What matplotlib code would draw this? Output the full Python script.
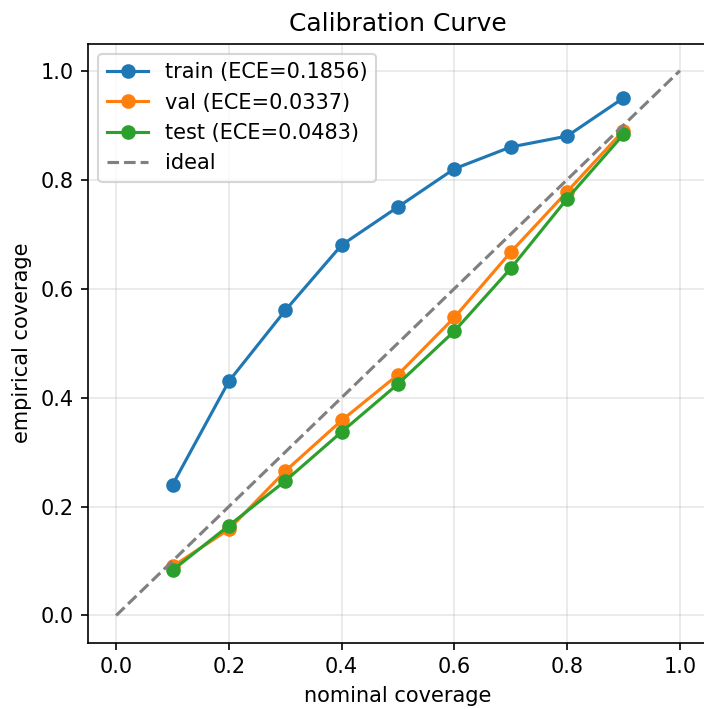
import matplotlib
matplotlib.use("Agg")
import matplotlib.pyplot as plt
import numpy as np

nominal = [0.1, 0.2, 0.3, 0.4, 0.5, 0.6, 0.7, 0.8, 0.9]
train_cov = [0.24, 0.43, 0.56, 0.68, 0.75, 0.82, 0.86, 0.88, 0.95]
val_cov = [0.09, 0.158, 0.265, 0.358, 0.442, 0.547, 0.667, 0.778, 0.89]
test_cov = [0.083, 0.165, 0.247, 0.337, 0.425, 0.522, 0.637, 0.765, 0.883]
ece = {"train": 0.1856, "val": 0.0337, "test": 0.0483}

W, H = 704, 709
dpi = 150
fig = plt.figure(figsize=(W / dpi, H / dpi), dpi=dpi)
# axes box in pixels: left 88, right 708, top 43.5, bottom 642.7
ax = fig.add_axes([88 / W, 1 - 642.7 / H, (708 - 88) / W, (642.7 - 43.5) / H])

for name, cov in [("train", train_cov), ("val", val_cov), ("test", test_cov)]:
    ax.plot(nominal, cov, marker="o", label=f"{name} (ECE={ece[name]:.4f})")
ax.plot([0, 1], [0, 1], linestyle="--", color="gray", label="ideal")

ax.set_xlabel("nominal coverage")
ax.set_ylabel("empirical coverage")
ax.set_title("Calibration Curve")
ax.grid(True, alpha=0.3)
ax.legend(loc="upper left")

fig.savefig("out.png", dpi=dpi)
